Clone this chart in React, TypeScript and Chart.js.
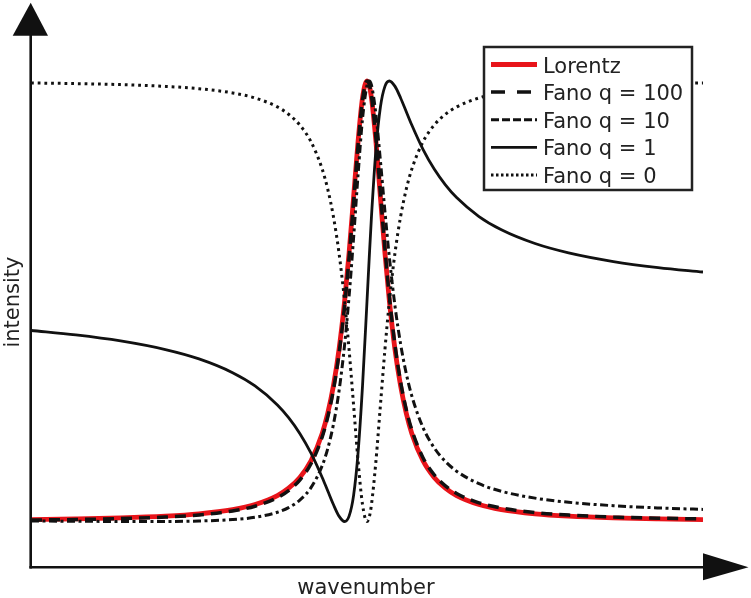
import React, { useEffect, useRef } from "react";
import { Chart, registerables } from "chart.js";

Chart.register(...registerables);

// wavenumber in units of the line half-width, centred on the resonance
const wavenumber = [
  -15, -13, -11, -9, -7.5, -6, -5, -4, -3.5, -3, -2.5, -2, -1.75, -1.5, -1.25, -1,
  -0.8, -0.6, -0.4, -0.2, 0, 0.1, 0.2, 0.4, 0.6, 0.8, 1, 1.25, 1.5, 1.75, 2, 2.5,
  3, 3.5, 4, 5, 6, 7.5, 9, 11, 13, 15,
];

const lorentz = [
  0.0044, 0.0059, 0.0082, 0.0122, 0.0175, 0.027, 0.0385, 0.0588, 0.0755, 0.1, 0.1379,
  0.2, 0.2462, 0.3077, 0.3902, 0.5, 0.6098, 0.7353, 0.8621, 0.9615, 1.0, 0.9901,
  0.9615, 0.8621, 0.7353, 0.6098, 0.5, 0.3902, 0.3077, 0.2462, 0.2, 0.1379, 0.1,
  0.0755, 0.0588, 0.0385, 0.027, 0.0175, 0.0122, 0.0082, 0.0059, 0.0044,
];

const fanoQ100 = [
  0.0032, 0.0045, 0.0065, 0.0101, 0.0149, 0.0239, 0.0347, 0.0542, 0.0703, 0.0941,
  0.1311, 0.1921, 0.2376, 0.2985, 0.3805, 0.49, 0.6, 0.7264, 0.8551, 0.9576, 0.9999,
  0.992, 0.9653, 0.8689, 0.7441, 0.6195, 0.51, 0.4, 0.317, 0.2548, 0.2081, 0.1449,
  0.1061, 0.0808, 0.0636, 0.0424, 0.0304, 0.0202, 0.0145, 0.0101, 0.0075, 0.0059,
];

const fanoQ10 = [
  0.0011, 0.0005, 0.0001, 0.0001, 0.0011, 0.0043, 0.0095, 0.021, 0.0316, 0.0485,
  0.0768, 0.1267, 0.1659, 0.2201, 0.2958, 0.401, 0.511, 0.6433, 0.7866, 0.9143,
  0.9901, 1.0, 0.9905, 0.9232, 0.818, 0.7042, 0.599, 0.489, 0.4029, 0.3365, 0.2851,
  0.2134, 0.1673, 0.1362, 0.1142, 0.0857, 0.0685, 0.053, 0.0436, 0.0358, 0.0308, 0.0274,
];

const fanoQ1 = [
  0.4336, 0.4235, 0.4098, 0.3902, 0.369, 0.3378, 0.3077, 0.2647, 0.2358, 0.2, 0.1552,
  0.1, 0.0692, 0.0385, 0.0122, 0.0, 0.0122, 0.0588, 0.1552, 0.3077, 0.5, 0.599, 0.6923,
  0.8448, 0.9412, 0.9878, 1.0, 0.9878, 0.9615, 0.9308, 0.9, 0.8448, 0.8, 0.7642, 0.7353,
  0.6923, 0.6622, 0.631, 0.6098, 0.5902, 0.5765, 0.5664,
];

const fanoQ0 = [
  0.9956, 0.9941, 0.9918, 0.9878, 0.9825, 0.973, 0.9615, 0.9412, 0.9245, 0.9, 0.8621,
  0.8, 0.7538, 0.6923, 0.6098, 0.5, 0.3902, 0.2647, 0.1379, 0.0385, 0.0, 0.0099, 0.0385,
  0.1379, 0.2647, 0.3902, 0.5, 0.6098, 0.6923, 0.7538, 0.8, 0.8621, 0.9, 0.9245, 0.9412,
  0.9615, 0.973, 0.9825, 0.9878, 0.9918, 0.9941, 0.9956,
];

const seriesLabels = ["Lorentz", "Fano q = 100", "Fano q = 10", "Fano q = 1", "Fano q = 0"];
const xAxisTitle = "wavenumber";
const yAxisTitle = "intensity";

const FONT = '21px "DejaVu Sans", sans-serif';
const INK = "#111111";

const toPoints = (ys: number[]) => wavenumber.map((x, i) => ({ x, y: ys[i] }));

const legendDashes: number[][] = [[], [14, 12], [8, 3], [], [2.5, 2.5]];

const overlayPlugin = {
  id: "overlay",
  afterDraw(chart: any) {
    const ctx: CanvasRenderingContext2D = chart.ctx;
    const { left, bottom } = chart.chartArea;
    const ax = left - 0.3;
    const ay = bottom - 0.7;
    ctx.save();
    ctx.strokeStyle = INK;
    ctx.fillStyle = INK;
    ctx.lineWidth = 2.6;
    ctx.setLineDash([]);
    // y axis
    ctx.beginPath();
    ctx.moveTo(ax, ay + 1.3);
    ctx.lineTo(ax, 34);
    ctx.stroke();
    // x axis
    ctx.beginPath();
    ctx.moveTo(ax - 1.3, ay);
    ctx.lineTo(705, ay);
    ctx.stroke();
    // arrow heads
    ctx.beginPath();
    ctx.moveTo(ax, 2.7);
    ctx.lineTo(ax - 18, 35.7);
    ctx.lineTo(ax + 17.3, 35.7);
    ctx.closePath();
    ctx.fill();
    ctx.beginPath();
    ctx.moveTo(748.5, ay);
    ctx.lineTo(703, ay - 14);
    ctx.lineTo(703, ay + 13);
    ctx.closePath();
    ctx.fill();

    // axis titles
    ctx.font = FONT;
    ctx.fillStyle = "#222";
    ctx.textAlign = "center";
    ctx.textBaseline = "alphabetic";
    ctx.fillText(xAxisTitle, 366, 594);
    ctx.save();
    ctx.translate(19, 302);
    ctx.rotate(-Math.PI / 2);
    ctx.fillText(yAxisTitle, 0, 0);
    ctx.restore();

    // legend
    const bx = 484, by = 47, bw = 208, bh = 143;
    ctx.fillStyle = "#ffffff";
    ctx.fillRect(bx, by, bw, bh);
    ctx.lineWidth = 2.5;
    ctx.strokeStyle = "#222";
    ctx.strokeRect(bx, by, bw, bh);
    const datasets = chart.data.datasets;
    seriesLabels.forEach((label, i) => {
      const ds = datasets[i];
      const y = 64.5 + i * 27.6;
      ctx.beginPath();
      ctx.setLineDash(legendDashes[i]);
      ctx.strokeStyle = ds.borderColor;
      ctx.lineWidth = ds.borderWidth;
      ctx.moveTo(491, y);
      ctx.lineTo(537, y);
      ctx.stroke();
      ctx.setLineDash([]);
      ctx.fillStyle = "#222";
      ctx.textAlign = "left";
      ctx.fillText(label, 543, y + 8);
    });
    ctx.restore();
  },
};

export default function App() {
  const canvasRef = useRef<HTMLCanvasElement | null>(null);

  useEffect(() => {
    if (!canvasRef.current) return;
    const common = {
      pointRadius: 0,
      pointHoverRadius: 0,
      fill: false,
      cubicInterpolationMode: "monotone" as const,
    };
    const chart = new Chart(canvasRef.current, {
      type: "line",
      data: {
        datasets: [
          { ...common, label: seriesLabels[0], data: toPoints(lorentz), borderColor: "#e8141a", borderWidth: 4.8, order: 4 },
          { ...common, label: seriesLabels[1], data: toPoints(fanoQ100), borderColor: INK, borderWidth: 3.5, borderDash: [11, 7], order: 0 },
          { ...common, label: seriesLabels[2], data: toPoints(fanoQ10), borderColor: INK, borderWidth: 3, borderDash: [8, 3.5, 3, 3.5], order: 1 },
          { ...common, label: seriesLabels[3], data: toPoints(fanoQ1), borderColor: INK, borderWidth: 2.8, order: 2 },
          { ...common, label: seriesLabels[4], data: toPoints(fanoQ0), borderColor: INK, borderWidth: 3, borderDash: [2.8, 3.9], order: 3 },
        ],
      },
      options: {
        responsive: false,
        animation: false,
        devicePixelRatio: 1,
        layout: { padding: { left: 31, right: 48, top: 10, bottom: 30 } },
        plugins: { legend: { display: false }, tooltip: { enabled: false }, title: { display: false } },
        events: [],
        scales: {
          x: { type: "linear", min: -15, max: 15, display: false },
          y: { type: "linear", min: -0.1056, max: 1.1612, display: false },
        },
      },
      plugins: [overlayPlugin],
    });
    return () => chart.destroy();
  }, []);

  return (
    <div style={{ position: "absolute", left: 0, top: 0, width: 751, height: 598, background: "#fff" }}>
      <canvas ref={canvasRef} width={751} height={598} />
    </div>
  );
}
